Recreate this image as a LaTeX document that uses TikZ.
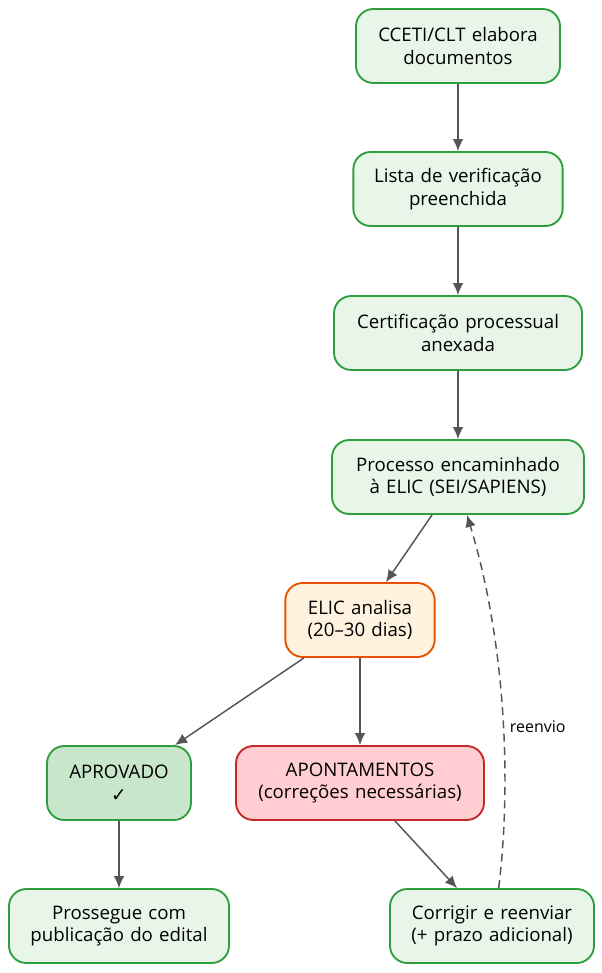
\documentclass[tikz,border=0pt]{standalone}
\usepackage{fontspec}
\setmainfont{Open Sans}
\newfontfamily\symfont{DejaVu Sans}
\usetikzlibrary{arrows.meta,positioning}

\definecolor{okfill}{HTML}{E8F5E9}
\definecolor{okline}{HTML}{2E9E3E}
\definecolor{apfill}{HTML}{C8E6C9}
\definecolor{elfill}{HTML}{FFF3E0}
\definecolor{elline}{HTML}{E65100}
\definecolor{bdfill}{HTML}{FFCDD2}
\definecolor{bdline}{HTML}{C62828}
\definecolor{edge}{HTML}{555555}

\tikzset{
  stage/.style={draw=okline, fill=okfill, line width=1.4pt, rounded corners=13pt,
    minimum height=55.5pt, align=center, font=\fontsize{14}{17}\selectfont, inner xsep=6pt},
  flow/.style={-{Latex[length=9pt,width=8pt]}, draw=edge, line width=1.1pt}
}

\begin{document}
\begin{tikzpicture}[x=0.75pt, y=-0.75pt]
  \useasboundingbox (0,0) rectangle (602,973);

  % main chain
  \node[stage, minimum width=153pt, text width=140pt] (doc) at (458,46) {CCETI/CLT elabora\\documentos};
  \node[stage, minimum width=157pt, text width=145pt] (lista) at (458,189) {Lista de verificação\\preenchida};
  \node[stage, minimum width=186pt, text width=172pt] (cert) at (458,333) {Certificação processual\\anexada};
  \node[stage, minimum width=189pt, text width=175pt] (proc) at (458,477) {Processo encaminhado\\à ELIC (SEI/SAPIENS)};

  % analysis and outcomes
  \node[stage, draw=elline, fill=elfill, minimum width=112pt, text width=100pt] (elic) at (360,620) {ELIC analisa\\(20–30 dias)};
  \node[stage, fill=apfill, minimum width=108pt, text width=96pt] (aprov) at (119,783) {APROVADO\\{\symfont ✓}};
  \node[stage, draw=bdline, fill=bdfill, minimum width=186pt, text width=174pt] (apont) at (360,783) {APONTAMENTOS\\(correções necessárias)};
  \node[stage, minimum width=165pt, text width=153pt] (pros) at (119,926) {Prossegue com\\publicação do edital};
  \node[stage, minimum width=153pt, text width=141pt] (corr) at (492,926) {Corrigir e reenviar\\(+ prazo adicional)};

  \draw[flow] (doc) -- (lista);
  \draw[flow] (lista) -- (cert);
  \draw[flow] (cert) -- (proc);
  \draw[flow] (proc) -- (elic);
  \draw[flow] (elic) -- (aprov);
  \draw[flow] (elic) -- (apont);
  \draw[flow] (aprov) -- (pros);
  \draw[flow] (apont) -- (corr);
  \draw[flow, dash pattern=on 6pt off 4pt] ([xshift=5pt]corr.north) .. controls (512,780) and (505,640) .. (467,515)
    node[pos=0.45, right=1pt, font=\fontsize{12}{14}\selectfont, text=black] {reenvio};
\end{tikzpicture}
\end{document}
